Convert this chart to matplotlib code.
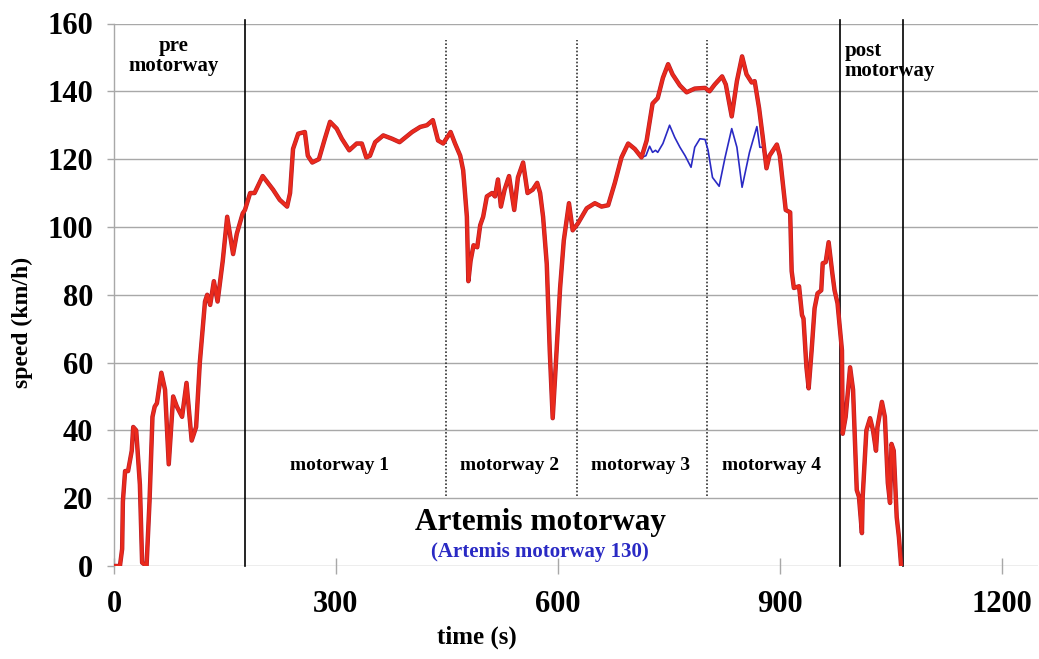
import matplotlib
matplotlib.use("Agg")
import matplotlib.pyplot as plt
import matplotlib.patheffects as pe
import numpy as np

# speed trace (Artemis motorway), time in s, speed in km/h
t_red = [0, 8, 11, 12, 15, 19, 24, 26, 30, 35, 38, 44, 48, 52, 55, 58, 64, 69, 74, 80,
         85, 92, 98, 105, 111, 116, 123, 126, 130, 135, 140, 147, 153, 161, 166, 174, 177,
         184, 190, 201, 215, 224, 234, 238, 242, 249, 258, 262, 268, 277, 285, 292, 301,
         308, 318, 328, 335, 341, 346, 353, 364, 376, 386, 403, 414, 423, 431, 438, 445,
         455, 461, 468, 472, 477, 479, 482, 486, 491, 495, 499, 504, 511, 515, 519, 523,
         528, 534, 541, 546, 553, 559, 566, 572, 576, 580, 585, 589, 593, 597, 603, 608,
         615, 620, 627, 639, 650, 659, 668, 677, 686, 695, 704, 713, 720, 728, 735, 742,
         749, 755, 765, 774, 785, 799, 805, 812, 822, 827, 835, 842, 849, 855, 862, 866,
         872, 877, 882, 886, 896, 900, 904, 908, 914, 916, 919, 926, 930, 932, 936, 939,
         943, 947, 951, 956, 958, 962, 966, 971, 974, 978, 981, 984, 985, 989, 995, 999,
         1004, 1007, 1011, 1012, 1017, 1022, 1026, 1030, 1032, 1038, 1042, 1046, 1049,
         1051, 1054, 1058, 1061, 1064]
v_red = [0, 0, 5, 19, 28, 28, 34, 41, 40, 24, 1, 0, 19, 44, 47, 48, 57, 52, 30, 50,
         47, 44, 54, 37, 41, 60, 78, 80, 77, 84, 78, 90, 103, 92, 98, 104, 105,
         110, 110, 115, 111, 108, 106, 110, 123, 127.5, 128, 121, 119, 120, 126, 131, 129,
         126, 122.6, 124.6, 124.6, 120.5, 121, 125, 127, 126, 125, 128, 129.5, 130, 131.5, 125.5, 124.6,
         128, 124.6, 121, 116.7, 103, 84, 90, 94.6, 94, 100.5, 103, 109, 110, 109, 114, 106,
         111, 115, 105, 114.6, 119, 110, 111, 113, 110, 103, 89, 63.6, 43.6, 58.6, 82, 96,
         107, 99, 101, 105.5, 107, 106, 106.4, 113, 120.5, 124.6, 123, 120.5, 125.5, 136.4, 138, 144,
         148, 145, 141.7, 139.7, 140.8, 141, 140, 142, 144.4, 142, 132.6, 143, 150.3, 145, 142.6, 143,
         135, 126.4, 117.3, 121, 124.3, 121, 113, 105, 104.3, 87, 82, 82.5, 74, 73, 58.6, 52.4,
         63.6, 76, 80.4, 81.3, 89.3, 89.6, 95.5, 86.3, 81.3, 77.5, 70.4, 63.6, 39, 44, 58.6, 52,
         22.4, 20.4, 9.7, 20.3, 40, 43.6, 40, 34, 41, 48.4, 44, 24.5, 18.6,
         36, 34, 14.4, 8.5, 0]

# Artemis motorway 130 variant (where it differs)
t_blue = [713, 719, 724, 728, 732, 735, 742, 751, 758, 765, 772, 780, 785, 792, 799,
          803, 809, 818, 826, 835, 842, 849, 859, 869, 873, 877, 882]
v_blue = [120.5, 121, 123.8, 122, 122.6, 122, 124.6, 130, 126.4, 123.5, 121, 117.6, 123.5,
          126, 125.8, 122.6, 114.6, 112, 120.5, 129, 123.5, 111.7, 122, 129.6, 123.5, 123.5, 117.3]

solid_bounds = [177, 981, 1066]
dotted_bounds = [449, 626, 801]
phase_labels = ["motorway 1", "motorway 2", "motorway 3", "motorway 4"]
phase_x = [305, 535, 712, 889]

plt.rcParams['font.family'] = ['Liberation Serif', 'DejaVu Serif']
plt.rcParams['font.weight'] = 'bold'

fig = plt.figure(figsize=(10.39, 6.59), dpi=100)
ax = fig.add_axes([114 / 1039, 93 / 659, (1038 - 114) / 1039, (566 - 23.5) / 659])
ax.set_xlim(0, 1249)
ax.set_ylim(0, 160)

grid_c = '#a8a8a8'
for y in range(0, 161, 20):
    ax.axhline(y, color=grid_c, lw=1.0, zorder=1)

for s in ['top', 'right', 'bottom']:
    ax.spines[s].set_visible(False)
ax.spines['left'].set_color(grid_c)
ax.spines['left'].set_linewidth(1.0)

ax.set_yticks(range(0, 161, 20))
ax.set_xticks([0, 300, 600, 900, 1200])
ax.tick_params(axis='y', direction='out', length=5, width=1, color=grid_c, pad=10, labelsize=22)
ax.tick_params(axis='x', direction='inout', length=11, width=1, color=grid_c, pad=12, labelsize=22)
for lab in ax.get_xticklabels() + ax.get_yticklabels():
    lab.set_fontweight('bold')

# phase boundaries
for xb in solid_bounds:
    ax.plot([xb, xb], [0, 161], color='black', lw=1.2, clip_on=False, zorder=3)
for xb in dotted_bounds:
    ax.plot([xb, xb], [20.5, 155], color='#333333', lw=1.2, ls=(0, (1, 1.2)), zorder=3)

ax.plot(t_blue, v_blue, color='#2a2ac4', lw=1.2, zorder=4)
ax.plot(t_red, v_red, color='#ea2a1c', lw=2.3, zorder=5, solid_joinstyle='round',
        path_effects=[pe.Stroke(linewidth=3.2, foreground='#b51d2a'), pe.Normal()])

ax.text(81, 150.5, "pre\nmotorway", ha='center', va='center', fontsize=15,
        fontweight='bold', linespacing=1.0)
ax.text(988, 149, "post\nmotorway", ha='left', va='center', fontsize=15,
        fontweight='bold', linespacing=1.0)
for lab, xp in zip(phase_labels, phase_x):
    ax.text(xp, 29.5, lab, ha='center', va='center', fontsize=14, fontweight='bold')

ax.text(576, 12.7, "Artemis motorway", ha='center', va='center', fontsize=22.5, fontweight='bold')
ax.text(576, 4.2, "(Artemis motorway 130)", ha='center', va='center', fontsize=15,
        fontweight='bold', color='#2a2ac4')

fig.text(22 / 1039, 1 - 322 / 659, "speed (km/h)", rotation=90, ha='center', va='center',
         fontsize=17, fontweight='bold')
fig.text(477 / 1039, 1 - 637 / 659, "time (s)", ha='center', va='center',
         fontsize=18, fontweight='bold')

fig.savefig("out.png", dpi=100)
